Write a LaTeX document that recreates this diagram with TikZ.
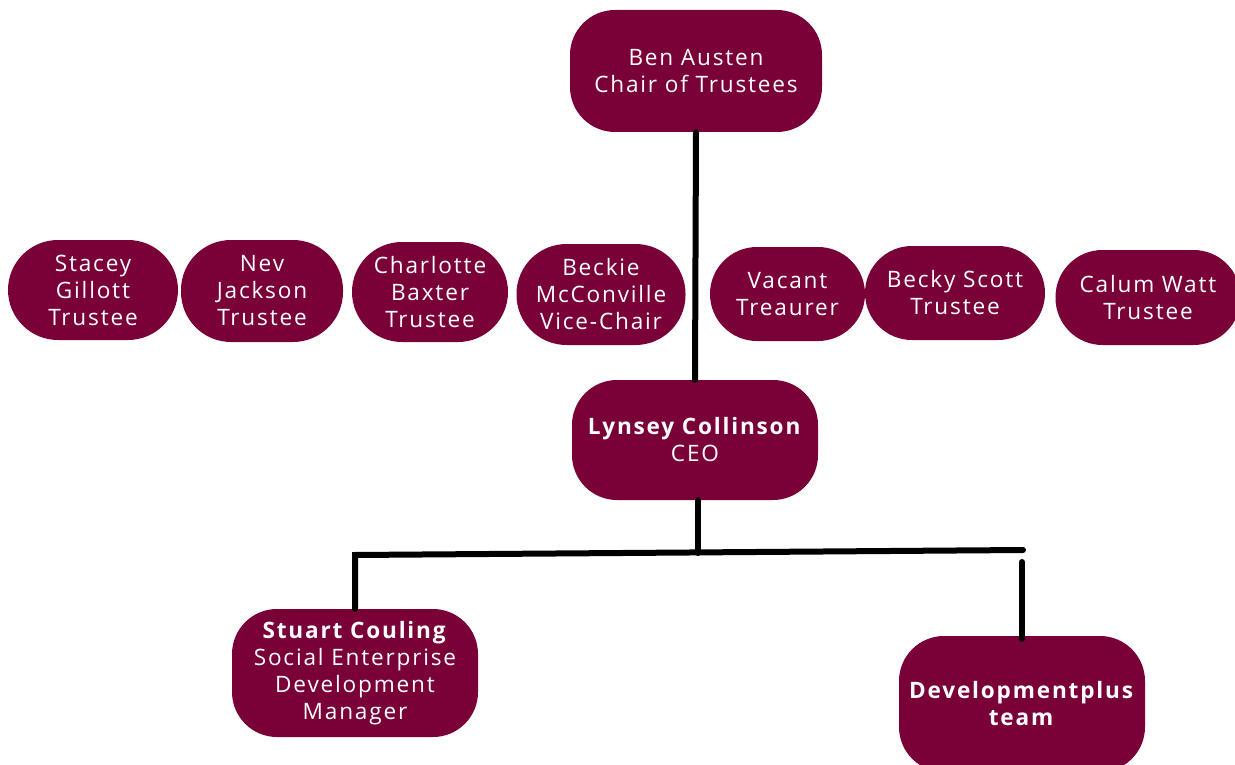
\documentclass[tikz,border=0pt]{standalone}
\usepackage{fontspec}
\setmainfont[LetterSpace=8]{Open Sans}
\definecolor{maroon}{RGB}{122,0,56}
\begin{document}
\begin{tikzpicture}[x=1pt,y=-1pt,
  box/.style={fill=maroon, text=white, inner sep=0pt, align=center,
    font=\fontsize{22.6}{27}\selectfont, rounded corners=#1},
  box/.default=45pt,
  link/.style={line width=6pt, black, line cap=round}]
\useasboundingbox (0,0) rectangle (1235,765);
\fill[white] (0,0) rectangle (1235,765);
% top
\node[box, minimum width=252pt, minimum height=122pt] (ben) at (696,71) {Ben Austen\\Chair of Trustees};
% trustees row
\node[box=50pt, minimum width=170pt, minimum height=100pt] (stacey) at (93,290) {Stacey\\Gillott\\Trustee};
\node[box=50pt, minimum width=162pt, minimum height=102pt] (nev) at (262,291) {Nev\\Jackson\\Trustee};
\node[box=50pt, minimum width=156pt, minimum height=100pt] (charlotte) at (430,292) {Charlotte\\Baxter\\Trustee};
\node[box=50pt, minimum width=169pt, minimum height=101pt] (beckie) at (601,294.5) {Beckie\\McConville\\Vice-Chair};
\node[box=47pt, minimum width=155pt, minimum height=94pt] (vacant) at (787.5,294) {Vacant\\Treaurer};
\node[box=47pt, minimum width=180pt, minimum height=94pt] (becky) at (955,293) {Becky Scott\\Trustee};
\node[box=47pt, minimum width=185pt, minimum height=95pt] (calum) at (1148,297.5) {Calum Watt\\Trustee};
% CEO
\node[box, minimum width=246pt, minimum height=120pt] (ceo) at (695,440) {\textbf{Lynsey Collinson}\\CEO};
% bottom
\node[box, minimum width=246pt, minimum height=128pt] (stuart) at (355,673) {\textbf{Stuart Couling}\\Social Enterprise\\Development\\Manager};
\node[box, minimum width=246pt, minimum height=136pt] (dev) at (1022,704) {\textbf{Developmentplus}\\\textbf{team}};
% connectors
\coordinate (hl) at (355,555);
\coordinate (hm) at (698,553);
\coordinate (hr) at (1023,550);
\coordinate (dr) at (1022,562);
\draw[link] (ben.south) -- (ceo.north);
\draw[link] (ceo.south -| hm) -- (hm);
\draw[link] (stuart.north) -- (hl) -- (hr);
\draw[link] (dr) -- ([yshift=-3pt]dev.north);
\end{tikzpicture}
\end{document}
